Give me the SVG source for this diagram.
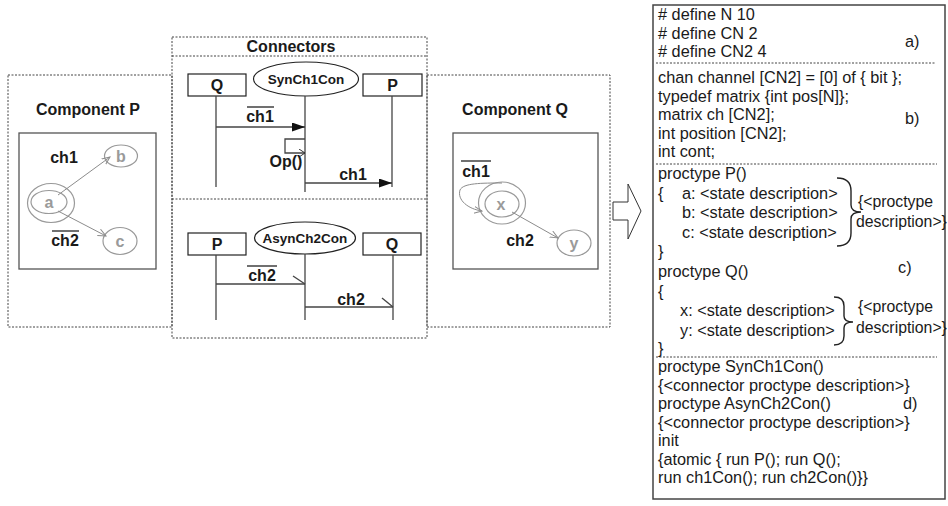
<svg xmlns="http://www.w3.org/2000/svg" width="948" height="506" viewBox="0 0 948 506">
<style>
text{font-family:"Liberation Sans",Arial,sans-serif;fill:#1a1a1a}
.b{font-weight:bold;font-size:16px}
.t{font-size:16.3px}
.bt{font-size:15.8px}
.e{font-size:13.5px;font-weight:bold}
.g{font-weight:bold;font-size:16px;fill:#9a9a9a}
.dash{fill:none;stroke:#444;stroke-width:1;stroke-dasharray:2,1.5}
.box{fill:none;stroke:#555;stroke-width:1.3}
.sq{fill:#fff;stroke:#222;stroke-width:1.2}
.life{stroke:#444;stroke-width:1.3;fill:none}
.st{fill:none;stroke:#999;stroke-width:1.2}
.tr{fill:none;stroke:#8c8c8c;stroke-width:1}
.ov{stroke:#222;stroke-width:1.3}
.brace{fill:none;stroke:#222;stroke-width:1.4}
</style>
<defs>
<marker id="open" markerWidth="9" markerHeight="9" refX="8" refY="4" orient="auto" markerUnits="userSpaceOnUse">
<path d="M0,0.5 L8,4 L0,7.5" fill="none" stroke="#8c8c8c" stroke-width="1"/>
</marker>
<marker id="fill" markerWidth="14" markerHeight="10" refX="13" refY="4.5" orient="auto" markerUnits="userSpaceOnUse">
<path d="M0,0 L13,4.5 L0,9 Z" fill="#111"/>
</marker>
<marker id="openb" markerWidth="8" markerHeight="10" refX="6" refY="4" orient="auto" markerUnits="userSpaceOnUse">
<path d="M0,0 L6,4 L0,8" fill="none" stroke="#333" stroke-width="1"/>
</marker>
</defs>

<!-- Component P -->
<g id="componentP">
<rect class="dash" x="8" y="75" width="164" height="252"/>
<text class="b" x="88" y="115" text-anchor="middle">Component P</text>
<rect class="box" x="19" y="133" width="137" height="136"/>
<text class="b" x="64" y="163" text-anchor="middle">ch1</text>
<text class="b" x="65" y="246" text-anchor="middle">ch2</text>
<line class="ov" x1="52" y1="231" x2="79" y2="231"/>
</g>
<g id="stateA">
<ellipse class="st" cx="51" cy="203" rx="23.5" ry="19.5"/>
<ellipse class="st" cx="49" cy="202" rx="18" ry="11.5"/>
<text class="g" x="49" y="207.5" text-anchor="middle">a</text>
</g>
<g id="stateB">
<ellipse class="st" cx="121" cy="156" rx="16.5" ry="11"/>
<text class="g" x="121" y="161.5" text-anchor="middle">b</text>
</g>
<g id="stateC">
<ellipse class="st" cx="120" cy="241" rx="17" ry="13.5"/>
<text class="g" x="120" y="246.5" text-anchor="middle">c</text>
</g>

<!-- Connectors container -->
<g id="connectorsBox">
<rect class="dash" x="172" y="37" width="255" height="301"/>
<line class="dash" x1="172" y1="56" x2="427" y2="56"/>
<line class="dash" x1="172" y1="199" x2="427" y2="199"/>
<text class="b" x="291" y="52" text-anchor="middle">Connectors</text>
</g>

<!-- Syn section -->
<g id="synQ">
<rect class="sq" x="188" y="74" width="58" height="22"/>
<text class="b" x="217" y="91" text-anchor="middle">Q</text>
</g>
<g id="synCon">
<ellipse class="sq" cx="306" cy="79" rx="52.5" ry="17"/>
<text class="e" x="306" y="84" text-anchor="middle">SynCh1Con</text>
</g>
<g id="synP">
<rect class="sq" x="363" y="74" width="59" height="22"/>
<text class="b" x="392.5" y="91" text-anchor="middle">P</text>
</g>

<!-- Asyn section -->
<g id="asynP">
<rect class="sq" x="188" y="233" width="58" height="22"/>
<text class="b" x="217" y="250" text-anchor="middle">P</text>
</g>
<g id="asynCon">
<ellipse class="sq" cx="305" cy="238" rx="50.5" ry="16"/>
<text class="e" x="305" y="243" text-anchor="middle">AsynCh2Con</text>
</g>
<g id="asynQ">
<rect class="sq" x="363" y="233" width="58" height="22"/>
<text class="b" x="392" y="250" text-anchor="middle">Q</text>
</g>

<!-- Component Q -->
<g id="componentQ">
<rect class="dash" x="427" y="75" width="183" height="252"/>
<text class="b" x="515" y="115" text-anchor="middle">Component Q</text>
<rect class="box" x="453" y="133" width="145" height="136"/>
<text class="b" x="476" y="177" text-anchor="middle">ch1</text>
<line class="ov" x1="461" y1="161" x2="491" y2="161"/>
<text class="b" x="520" y="246" text-anchor="middle">ch2</text>
</g>
<g id="stateX">
<ellipse class="st" cx="502" cy="203" rx="23.5" ry="21"/>
<ellipse class="st" cx="502" cy="204" rx="17" ry="13"/>
<text class="g" x="501" y="209.5" text-anchor="middle">x</text>
</g>
<g id="stateY">
<ellipse class="st" cx="574" cy="243" rx="17" ry="13"/>
<text class="g" x="574" y="248.5" text-anchor="middle">y</text>
</g>

<!-- Block arrow -->
<g id="blockArrow">
<polygon points="613,202 628,202 628,184 641,211 628,239 628,220 613,220" fill="#fff" stroke="#333" stroke-width="1"/>
</g>

<!-- Promela code box -->
<g id="codeBox">
<rect x="653" y="5" width="292" height="494" fill="none" stroke="#444" stroke-width="1.5"/>
<line class="dash" x1="656" y1="63" x2="935" y2="63"/>
<line class="dash" x1="656" y1="164" x2="937" y2="164"/>
<line class="dash" x1="656" y1="357" x2="937" y2="357"/>
<text class="t" x="658" y="20"># define N 10</text>
<text class="t" x="658" y="39"># define CN 2</text>
<text class="t" x="658" y="57"># define CN2 4</text>
<text class="t" x="905" y="47">a)</text>
<text class="t" x="658" y="83">chan channel [CN2] = [0] of { bit };</text>
<text class="t" x="658" y="102">typedef matrix {int pos[N]};</text>
<text class="t" x="658" y="120">matrix ch [CN2];</text>
<text class="t" x="658" y="139">int position [CN2];</text>
<text class="t" x="658" y="157">int cont;</text>
<text class="t" x="905" y="124">b)</text>
<text class="t" x="658" y="179">proctype P()</text>
<text class="t" x="658" y="198.6">{</text>
<text class="t" x="682" y="198.6">a: &lt;state description&gt;</text>
<text class="t" x="682" y="218.2">b: &lt;state description&gt;</text>
<text class="t" x="682" y="237.8">c: &lt;state description&gt;</text>
<text class="t" x="658" y="257.4">}</text>
<text class="t" x="658" y="277">proctype Q()</text>
<text class="t" x="658" y="296.6">{</text>
<text class="t" x="680" y="316.2">x: &lt;state description&gt;</text>
<text class="t" x="680" y="335.8">y: &lt;state description&gt;</text>
<text class="t" x="658" y="353.5">}</text>
<text class="t" x="898" y="273">c)</text>
<path class="brace" d="M837,178 Q851,178 851,191 L851,205 Q851,212 861,212 Q851,212 851,219 L851,233 Q851,246 837,246"/>
<text class="bt" x="858" y="207">{&lt;proctype</text>
<text class="bt" x="856" y="227">description&gt;}</text>
<path class="brace" d="M834,297 Q844,297 844,306 L844,316 Q844,322 853,322 Q844,322 844,328 L844,336 Q844,345 834,345"/>
<text class="bt" x="858" y="312">{&lt;proctype</text>
<text class="bt" x="856" y="333">description&gt;}</text>
<text class="t" x="658" y="372">proctype SynCh1Con()</text>
<text class="t" x="658" y="390.5">{&lt;connector proctype description&gt;}</text>
<text class="t" x="658" y="409">proctype AsynCh2Con()</text>
<text class="t" x="903" y="409">d)</text>
<text class="t" x="658" y="427.5">{&lt;connector proctype description&gt;}</text>
<text class="t" x="658" y="446">init</text>
<text class="t" x="658" y="464.5">{atomic { run P(); run Q();</text>
<text class="t" x="658" y="483">run ch1Con(); run ch2Con()}}</text>
</g>

<!-- Connectors (lines, messages, transitions) -->
<g id="connectors">
<!-- component P transitions -->
<line class="tr" x1="58" y1="195" x2="110" y2="157" marker-end="url(#open)"/>
<line class="tr" x1="58" y1="211" x2="106" y2="236" marker-end="url(#open)"/>
<!-- component Q transitions -->
<path class="tr" d="M502,183 C482,183 463,183 460,190 C457,200 468,209 482,211" marker-end="url(#open)"/>
<line class="tr" x1="512" y1="212" x2="558" y2="238" marker-end="url(#open)"/>
<!-- Syn lifelines -->
<line class="life" x1="216" y1="96" x2="216" y2="187"/>
<line class="life" x1="305" y1="96" x2="305" y2="192"/>
<line class="life" x1="392" y1="96" x2="392" y2="187"/>
<line class="life" x1="216" y1="127" x2="305" y2="127" marker-end="url(#fill)"/>
<text class="b" x="260" y="122" text-anchor="middle">ch1</text>
<line class="ov" x1="247" y1="107" x2="274" y2="107"/>
<path class="life" d="M305,139 L285,139 L285,153 L305,153" stroke-width="1" marker-end="url(#openb)"/>
<text class="b" x="286" y="167" text-anchor="middle">Op()</text>
<line class="life" x1="305" y1="183" x2="392" y2="183" marker-end="url(#fill)"/>
<text class="b" x="353" y="180" text-anchor="middle">ch1</text>
<!-- Asyn lifelines -->
<line class="life" x1="216" y1="255" x2="216" y2="320"/>
<line class="life" x1="305" y1="254" x2="305" y2="320"/>
<line class="life" x1="393" y1="255" x2="393" y2="320"/>
<line class="life" x1="216" y1="284" x2="305" y2="284"/>
<line class="life" x1="293" y1="276" x2="305" y2="284" stroke-width="1"/>
<text class="b" x="262" y="281" text-anchor="middle">ch2</text>
<line class="ov" x1="247" y1="266" x2="277" y2="266"/>
<line class="life" x1="305" y1="307" x2="393" y2="307"/>
<line class="life" x1="382" y1="298" x2="393" y2="307" stroke-width="1"/>
<text class="b" x="351" y="305" text-anchor="middle">ch2</text>
</g>
</svg>
